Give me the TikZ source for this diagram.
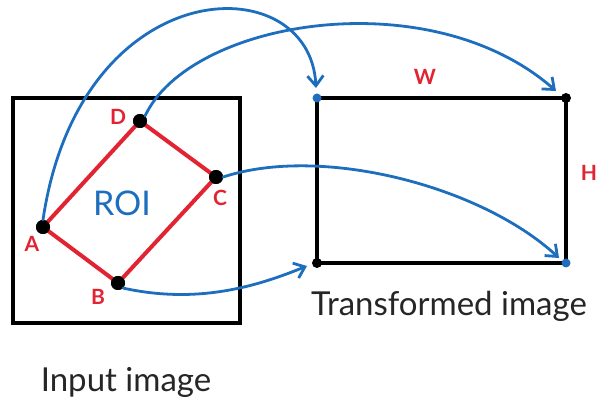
\documentclass[tikz,border=0pt]{standalone}
\usepackage{fontspec}
\setmainfont{Lato}
\usetikzlibrary{arrows.meta}
\definecolor{myblue}{RGB}{30,110,190}
\definecolor{myred}{RGB}{225,35,50}
\tikzset{
  frame/.style={draw=black, line width=4pt, line cap=round},
  roi/.style={draw=myred, line width=4pt},
  corner/.style={circle, fill=black, inner sep=0pt, minimum size=14pt},
  bluedot/.style={circle, fill=myblue, inner sep=0pt, minimum size=9pt},
  blackdot/.style={circle, fill=black, inner sep=0pt, minimum size=10pt},
  lab/.style={text=myred, font=\bfseries\fontsize{21}{21}\selectfont},
  conn/.style={draw=myblue, line width=2.8pt, line cap=round, -{Straight Barb[length=10pt,width=16pt,line width=2.8pt]}},
  captext/.style={font=\fontsize{33}{33}\selectfont, text=black!85}
}
\begin{document}
\begin{tikzpicture}[x=1pt,y=-1pt]
\useasboundingbox (0,0) rectangle (598,401);
% input image frame
\draw[frame] (13,98) rectangle (240,323);
% transformed frame
\draw[frame] (317,98) rectangle (566,263);
% ROI
\node[corner] (A) at (43,227) {};
\node[corner] (B) at (118,283) {};
\node[corner] (C) at (216,177) {};
\node[corner] (D) at (140,121) {};
\draw[roi] (A.center) -- (B.center) -- (C.center) -- (D.center) -- cycle;
\node[corner] at (A) {};
\node[corner] at (B) {};
\node[corner] at (C) {};
\node[corner] at (D) {};
\node[lab] (la) at (32,244) {A};
\node[lab] (lb) at (98,297) {B};
\node[lab] (lc) at (220,198) {C};
\node[lab] (ld) at (118,117) {D};
\node[text=myblue, font=\fontsize{34}{34}\selectfont] (roit) at (122,203) {ROI};
% transformed corners
\node[bluedot] (TL) at (317,98) {};
\node[blackdot] (TR) at (566,98) {};
\node[bluedot] (BR) at (566,263) {};
\node[blackdot] (BL) at (317,263) {};
\node[lab] (W) at (425,77) {W};
\node[lab] (H) at (589,173) {H};
% captions
\node[captext] (cap1) at (449,306) {Transformed image};
\node[captext] (cap2) at (126,382) {Input image};
% connectors
\coordinate (TLe) at (316,88);
\coordinate (TRe) at (556,91);
\coordinate (BRe) at (559,258);
\coordinate (BLe) at (307,266);
\draw[conn] (A.north) .. controls (80,-30) and (310,-35) .. (TLe);
\draw[conn] (D.north east) .. controls (190,20) and (430,-20) .. (TRe);
\draw[conn] (C.east) .. controls (320,145) and (480,185) .. (BRe);
\draw[conn] (B.south east) .. controls (200,305) and (260,285) .. (BLe);
\end{tikzpicture}
\end{document}
